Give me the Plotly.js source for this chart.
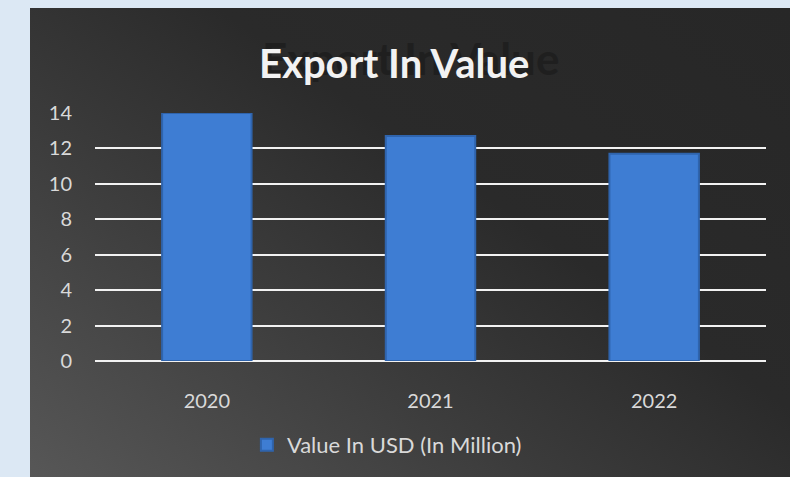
<!DOCTYPE html>
<html>
<head>
<meta charset="utf-8">
<script src="https://cdn.plot.ly/plotly-3.0.1.min.js"></script>
<style>
  html, body { margin: 0; padding: 0; }
  body { width: 790px; height: 477px; background: #dce8f4; position: relative; overflow: hidden; }
  #box { position: absolute; left: 30px; top: 8px; width: 760px; height: 469px;
         background: linear-gradient(35deg, #575757 0%, #3c3c3c 35%, #2a2a2a 60%, #272727 100%); }
  #chart { position: absolute; left: 0; top: 0; width: 790px; height: 477px; }
</style>
</head>
<body>
<div id="box"></div>
<div id="chart"></div>
<script>
const years = ['2020', '2021', '2022'];
const values = [14.0, 12.7, 11.7];
const seriesName = 'Value In USD (In Million)';
const titleText = 'Export In Value';
const yTicks = [0, 2, 4, 6, 8, 10, 12, 14];

const trace = {
  type: 'bar',
  x: years,
  y: values,
  name: seriesName,
  width: 0.4,
  marker: { color: '#3e7dd3', line: { color: '#2f64ad', width: 2 } },
  showlegend: true,
  hoverinfo: 'x+y'
};

const layout = {
  width: 790, height: 477,
  paper_bgcolor: 'rgba(0,0,0,0)',
  plot_bgcolor: 'rgba(0,0,0,0)',
  margin: { l: 95, r: 24, t: 113, b: 115 },
  font: { family: 'Lato, "Open Sans", sans-serif', color: '#d9d9d9' },
  annotations: [
    { // faint shadow behind the title
      text: '<b>' + titleText + '</b>', xref: 'paper', yref: 'paper',
      x: 0.47, xshift: 0, y: 1.222, yanchor: 'middle', xanchor: 'center', showarrow: false,
      font: { size: 44, color: '#1f1f1f', family: 'Lato, sans-serif' }
    },
    { // title
      text: '<b>' + titleText + '</b>', xref: 'paper', yref: 'paper',
      x: 0.445, y: 1.2, yanchor: 'middle', xanchor: 'center', showarrow: false,
      font: { size: 40, color: '#f2f2f2', family: 'Lato, sans-serif' }
    }
  ],
  xaxis: {
    type: 'category', showgrid: false, zeroline: false, showline: false,
    ticks: '', ticklabelstandoff: 26, tickfont: { size: 20, color: '#d9d9d9' }
  },
  yaxis: {
    range: [0, 14], tickvals: yTicks, showgrid: true, gridcolor: '#f2f2f2', gridwidth: 2,
    zeroline: true, zerolinecolor: '#f2f2f2', zerolinewidth: 2, showline: false,
    ticks: '', ticklabelstandoff: 22, tickfont: { size: 20, color: '#d9d9d9' }
  },
  legend: { orientation: 'h', x: 0.435, xanchor: 'center', y: -0.333, yanchor: 'middle',
            font: { size: 22, color: '#d9d9d9' }, bgcolor: 'rgba(0,0,0,0)' },
  bargap: 0.6
};

Plotly.newPlot('chart', [trace], layout, { displayModeBar: false, staticPlot: true });
</script>
</body>
</html>
